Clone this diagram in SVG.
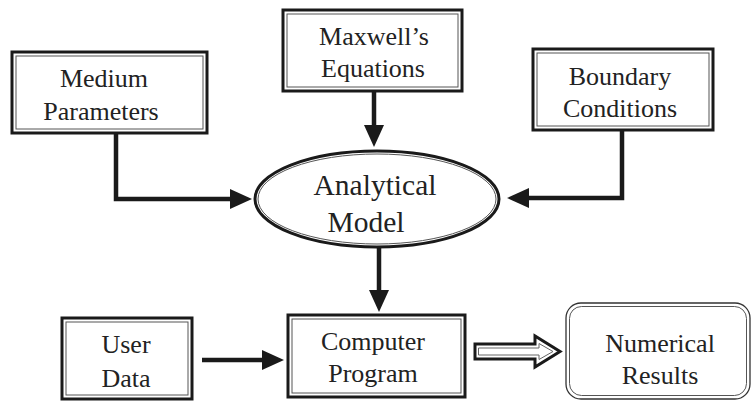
<svg xmlns="http://www.w3.org/2000/svg" width="752" height="401" viewBox="0 0 752 401">
<defs>
<style>
.outer{fill:#fff;stroke:#1a1a1a;stroke-width:3}
.inner{fill:none;stroke:#555;stroke-width:1}
.t{font-family:"Liberation Serif","Times New Roman",serif;font-size:26px;fill:#222;text-anchor:middle}
.big{font-size:29.5px}
.con{fill:none;stroke:#1a1a1a;stroke-width:4.5}
</style>
<marker id="ah" markerWidth="22" markerHeight="20" refX="0" refY="10" orient="auto" markerUnits="userSpaceOnUse" overflow="visible">
<path d="M0,0 L22,10 L0,20 Z" fill="#1a1a1a"/>
</marker>
</defs>
<rect width="752" height="401" fill="#fff"/>

<g id="connectors">
<path class="con" d="M116,133 V199 H230" marker-end="url(#ah)"/>
<path class="con" d="M374,92 V125" marker-end="url(#ah)"/>
<path class="con" d="M622,131 V198 H529" marker-end="url(#ah)"/>
<path class="con" d="M379,248 V290" marker-end="url(#ah)"/>
<path class="con" d="M202,360 H262" marker-end="url(#ah)"/>
<g id="hollow-arrow">
<path d="M475,344 H535 V336 L560,351.5 L535,367 V359 H475 Z" fill="#fff" stroke="#1a1a1a" stroke-width="3" stroke-linejoin="miter"/>
<path d="M478.5,348 H539 V343.5 L553,351.5 L539,359.5 V355 H478.5 Z" fill="none" stroke="#666" stroke-width="1"/>
</g>
</g>

<g id="medium">
<rect class="outer" x="12" y="52" width="195" height="81"/>
<rect class="inner" x="16" y="56" width="187" height="73"/>
<text class="t" x="104" y="87">Medium</text>
<text class="t" x="101" y="120">Parameters</text>
</g>

<g id="maxwell">
<rect class="outer" x="283" y="10" width="179" height="81"/>
<rect class="inner" x="287" y="14" width="171" height="73"/>
<text class="t" x="374" y="45">Maxwell’s</text>
<text class="t" x="373" y="77">Equations</text>
</g>

<g id="boundary">
<rect class="outer" x="533" y="49" width="180" height="81"/>
<rect class="inner" x="537" y="53" width="172" height="73"/>
<text class="t" x="620" y="85">Boundary</text>
<text class="t" x="620" y="117">Conditions</text>
</g>

<g id="analytical">
<ellipse cx="377" cy="199" rx="122" ry="48" fill="#fff" stroke="#1a1a1a" stroke-width="3"/>
<ellipse cx="377" cy="199" rx="119" ry="45" fill="none" stroke="#555" stroke-width="1"/>
<text class="t big" x="375" y="195">Analytical</text>
<text class="t big" x="366" y="232">Model</text>
</g>

<g id="user">
<rect class="outer" x="62" y="318" width="130" height="81"/>
<rect class="inner" x="66" y="322" width="122" height="73"/>
<text class="t" x="126" y="353">User</text>
<text class="t" x="126" y="387">Data</text>
</g>

<g id="computer">
<rect class="outer" x="288" y="315" width="177" height="82"/>
<rect class="inner" x="292" y="319" width="169" height="74"/>
<text class="t" x="373" y="350">Computer</text>
<text class="t" x="373" y="382">Program</text>
</g>

<g id="numerical">
<rect x="566" y="303" width="184" height="96" rx="15" fill="#fff" stroke="#333" stroke-width="1.3"/>
<rect x="569.5" y="306.5" width="177" height="89" rx="12" fill="none" stroke="#555" stroke-width="1"/>
<text class="t" x="660" y="352">Numerical</text>
<text class="t" x="660" y="384">Results</text>
</g>
</svg>
